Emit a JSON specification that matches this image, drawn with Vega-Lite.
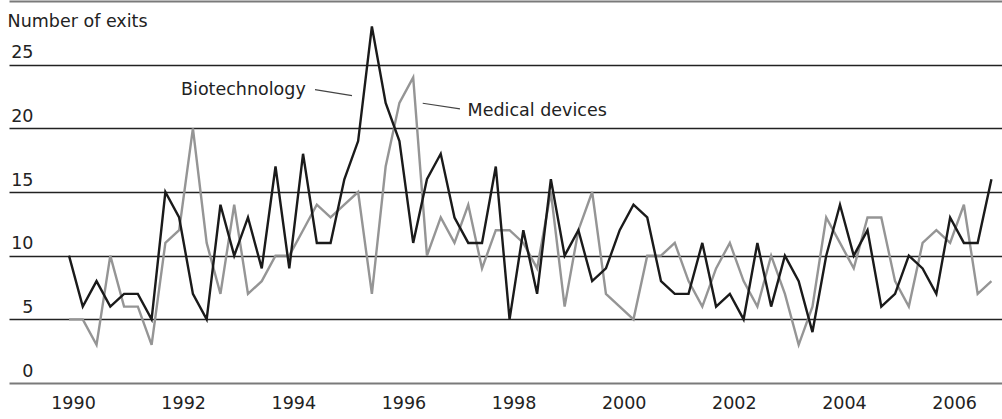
{
  "$schema": "https://vega.github.io/schema/vega-lite/v6.json",
  "autosize": {"type": "none"},
  "padding": {"left": 9, "top": 1, "right": 0, "bottom": 36},
  "width": 993,
  "height": 382,
  "background": "white",
  "config": {
    "view": {"stroke": null},
    "font": "DejaVu Sans",
    "text": {"font": "DejaVu Sans", "fontSize": 17.5, "color": "#222222"}
  },
  "datasets": {
    "exits": [
      {"t": 1990.00, "bio": 10, "med": 5}, {"t": 1990.25, "bio": 6, "med": 5}, {"t": 1990.50, "bio": 8, "med": 3}, {"t": 1990.75, "bio": 6, "med": 10},
      {"t": 1991.00, "bio": 7, "med": 6}, {"t": 1991.25, "bio": 7, "med": 6}, {"t": 1991.50, "bio": 5, "med": 3}, {"t": 1991.75, "bio": 15, "med": 11},
      {"t": 1992.00, "bio": 13, "med": 12}, {"t": 1992.25, "bio": 7, "med": 20}, {"t": 1992.50, "bio": 5, "med": 11}, {"t": 1992.75, "bio": 14, "med": 7},
      {"t": 1993.00, "bio": 10, "med": 14}, {"t": 1993.25, "bio": 13, "med": 7}, {"t": 1993.50, "bio": 9, "med": 8}, {"t": 1993.75, "bio": 17, "med": 10},
      {"t": 1994.00, "bio": 9, "med": 10}, {"t": 1994.25, "bio": 18, "med": 12}, {"t": 1994.50, "bio": 11, "med": 14}, {"t": 1994.75, "bio": 11, "med": 13},
      {"t": 1995.00, "bio": 16, "med": 14}, {"t": 1995.25, "bio": 19, "med": 15}, {"t": 1995.50, "bio": 28, "med": 7}, {"t": 1995.75, "bio": 22, "med": 17},
      {"t": 1996.00, "bio": 19, "med": 22}, {"t": 1996.25, "bio": 11, "med": 24}, {"t": 1996.50, "bio": 16, "med": 10}, {"t": 1996.75, "bio": 18, "med": 13},
      {"t": 1997.00, "bio": 13, "med": 11}, {"t": 1997.25, "bio": 11, "med": 14}, {"t": 1997.50, "bio": 11, "med": 9}, {"t": 1997.75, "bio": 17, "med": 12},
      {"t": 1998.00, "bio": 5, "med": 12}, {"t": 1998.25, "bio": 12, "med": 11}, {"t": 1998.50, "bio": 7, "med": 9}, {"t": 1998.75, "bio": 16, "med": 15},
      {"t": 1999.00, "bio": 10, "med": 6}, {"t": 1999.25, "bio": 12, "med": 12}, {"t": 1999.50, "bio": 8, "med": 15}, {"t": 1999.75, "bio": 9, "med": 7},
      {"t": 2000.00, "bio": 12, "med": 6}, {"t": 2000.25, "bio": 14, "med": 5}, {"t": 2000.50, "bio": 13, "med": 10}, {"t": 2000.75, "bio": 8, "med": 10},
      {"t": 2001.00, "bio": 7, "med": 11}, {"t": 2001.25, "bio": 7, "med": 8}, {"t": 2001.50, "bio": 11, "med": 6}, {"t": 2001.75, "bio": 6, "med": 9},
      {"t": 2002.00, "bio": 7, "med": 11}, {"t": 2002.25, "bio": 5, "med": 8}, {"t": 2002.50, "bio": 11, "med": 6}, {"t": 2002.75, "bio": 6, "med": 10},
      {"t": 2003.00, "bio": 10, "med": 7}, {"t": 2003.25, "bio": 8, "med": 3}, {"t": 2003.50, "bio": 4, "med": 6}, {"t": 2003.75, "bio": 10, "med": 13},
      {"t": 2004.00, "bio": 14, "med": 11}, {"t": 2004.25, "bio": 10, "med": 9}, {"t": 2004.50, "bio": 12, "med": 13}, {"t": 2004.75, "bio": 6, "med": 13},
      {"t": 2005.00, "bio": 7, "med": 8}, {"t": 2005.25, "bio": 10, "med": 6}, {"t": 2005.50, "bio": 9, "med": 11}, {"t": 2005.75, "bio": 7, "med": 12},
      {"t": 2006.00, "bio": 13, "med": 11}, {"t": 2006.25, "bio": 11, "med": 14}, {"t": 2006.50, "bio": 11, "med": 7}, {"t": 2006.75, "bio": 16, "med": 8}
    ],
    "labels": [
      {"label": "Number of exits", "t": 1988.885, "v": 27.92},
      {"label": "Biotechnology", "t": 1992.034, "v": 22.65},
      {"label": "Medical devices", "t": 1997.238, "v": 21.0}
    ],
    "leaders": [
      {"t": 1994.467, "v": 23.04, "t2": 1995.139, "v2": 22.57},
      {"t": 1996.423, "v": 21.97, "t2": 1997.10, "v2": 21.53}
    ]
  },
  "layer": [
    {
      "data": {"name": "exits"},
      "mark": {"type": "line", "color": "#959595", "strokeWidth": 2.4, "clip": false},
      "encoding": {
        "x": {
          "field": "t", "type": "quantitative",
          "scale": {"domain": [1988.9105, 2006.942], "nice": false, "zero": false},
          "axis": {
            "title": null, "values": [1990, 1992, 1994, 1996, 1998, 2000, 2002, 2004, 2006],
            "format": "d", "domain": false, "ticks": false, "tickSize": 0, "grid": false,
            "labelFont": "DejaVu Sans", "labelFontSize": 17.5, "labelColor": "#222222",
            "labelPadding": 11, "labelOffset": 4
          }
        },
        "y": {
          "field": "med", "type": "quantitative",
          "scale": {"domain": [0, 30], "nice": false},
          "axis": {
            "title": null, "values": [0, 5, 10, 15, 20, 25, 30],
            "labelExpr": "datum.value == 30 ? '' : datum.label",
            "domain": false, "ticks": false, "tickSize": 0,
            "grid": true,
            "gridColor": {"condition": {"test": "datum.value === 0 || datum.value === 30", "value": "#7a7a7a"}, "value": "#222222"},
            "gridWidth": {"condition": {"test": "datum.value === 0 || datum.value === 30", "value": 2.2}, "value": 1.4},
            "labelFont": "DejaVu Sans", "labelFontSize": 17.5, "labelColor": "#222222",
            "labelAlign": "right", "labelBaseline": "alphabetic", "labelPadding": -24, "labelOffset": -7,
            "labelBound": false, "labelOverlap": false
          }
        }
      }
    },
    {
      "data": {"name": "exits"},
      "mark": {"type": "line", "color": "#1a1a1a", "strokeWidth": 2.4, "clip": false},
      "encoding": {
        "x": {"field": "t", "type": "quantitative"},
        "y": {"field": "bio", "type": "quantitative"}
      }
    },
    {
      "data": {"name": "leaders"},
      "mark": {"type": "rule", "color": "#444444", "strokeWidth": 1.1},
      "encoding": {
        "x": {"field": "t", "type": "quantitative"},
        "x2": {"field": "t2"},
        "y": {"field": "v", "type": "quantitative"},
        "y2": {"field": "v2"}
      }
    },
    {
      "data": {"name": "labels"},
      "mark": {"type": "text", "align": "left", "baseline": "alphabetic", "fontSize": 17.5, "color": "#222222"},
      "encoding": {
        "x": {"field": "t", "type": "quantitative"},
        "y": {"field": "v", "type": "quantitative"},
        "text": {"field": "label"}
      }
    }
  ]
}
